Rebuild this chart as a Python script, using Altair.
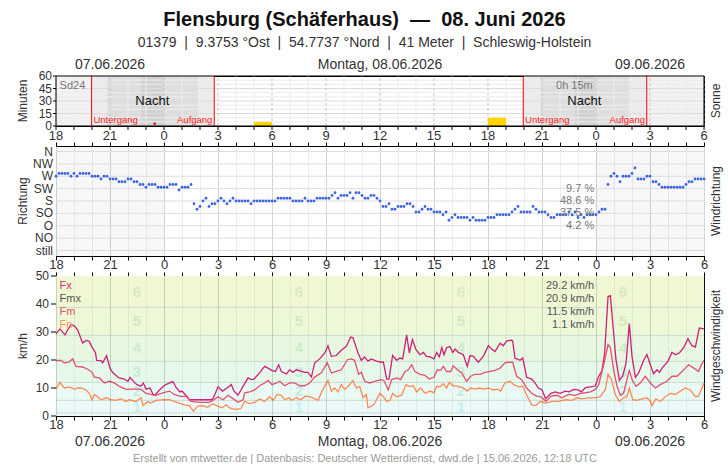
import json
import altair as alt
import pandas as pd

FONT = "Liberation Sans"
W, H1, H2, H3 = 648, 50, 110, 140
X_DOMAIN = [0, 36]  # hours since 07.06.2026 18:00 UTC

# ---------------- texts ----------------
title_text = "Flensburg (Schäferhaus) \u00a0—\u00a0 08. Juni 2026"
subtitle_text = ("01379 \u00a0|\u00a0 9.3753 °Ost \u00a0|\u00a0 54.7737 °Nord \u00a0|\u00a0 "
                 "41 Meter \u00a0|\u00a0 Schleswig-Holstein")
footer_text = "Erstellt von mtwetter.de | Datenbasis: Deutscher Wetterdienst, dwd.de | 15.06.2026, 12:18 UTC"
date_labels = ["07.06.2026", "Montag, 08.06.2026", "09.06.2026"]
date_label_hours = [3, 18, 33]
hour_ticks = list(range(0, 37))
major_hours = list(range(0, 37, 3))
minor_hours = [h for h in hour_ticks if h % 3 != 0]
major_hour_labels = [str((h + 18) % 24) for h in major_hours]

# ---------------- Sonne ----------------
other_day_start = [0, 30]
other_day_end = [6, 36]
night_edges = [
    [1.98, 2.83, 4.72, 5.98, 7.87, 8.79],
    [25.96, 26.93, 28.83, 29.94, 31.83, 32.82],
]
twilight_colors = ["#ebebeb", "#dedede", "#d2d2d2"]
sunset_hours = [1.98, 25.96]
sunrise_hours = [8.79, 32.82]
sun_hours = [11, 24]
sun_minutes = [5, 10]
night_label_hours = [5.35, 29.35]
min_grid = list(range(5, 60, 5))
min_ticks = [0, 15, 30, 45, 60]

# ---------------- Windrichtung (10-min values, degrees) ----------------
dir_names = ["still", "NO", "O", "SO", "S", "SW", "W", "NW", "N"]
dir_levels = [0, 45, 90, 135, 180, 225, 270, 315, 360]
dir_deg = [
    270, 280, 280, 280, 280, 270, 280, 270, 280, 280, 280, 280, 270, 270, 270, 260,
    270, 270, 260, 260, 260, 250, 250, 250, 260, 260, 250, 250, 240, 240, 230, 240,
    240, 240, 230, 230, 230, 230, 240, 240, 240, 220, 230, 230, 230, 240,
    170, 150, 160, 180, 190, 160, 170, 170, 180, 190, 180, 170, 180, 190, 180, 180,
    180, 180, 180, 170, 180, 180, 180, 180, 180, 180, 180, 180, 190, 190, 190, 190,
    190, 180, 180, 180, 180, 190, 180, 180, 180, 190, 190, 190, 190, 190, 200, 210,
    190, 200, 200, 200, 210, 190, 210, 210, 200, 190,
    190, 200, 200, 190, 180, 160, 160, 170, 150, 150, 160, 160, 160, 170, 170, 160,
    140, 140, 150, 160, 150, 150, 140, 140, 140, 130, 140, 110, 120, 130, 120, 120,
    120, 120, 110, 120, 110, 110, 110, 110, 120, 120, 120, 130, 130, 130, 130, 130,
    140, 150, 160, 140, 140, 140, 140, 160, 150, 140, 140, 140, 130, 120, 120, 130,
    130, 130, 130, 140, 130, 140, 120, 130, 120, 130, 130, 130, 130, 140, 150, 150,
    240, 270, 280, 270, 250, 270, 270, 270, 280, 300, 260, 260, 260, 270, 270, 250,
    250, 240, 230, 230, 230, 230, 230, 230, 230, 230, 240, 250, 250, 260, 260, 260, 260,
]
dir_pct_text = ["9.7 %", "48.6 %", "37.5 %", "4.2 %"]
dir_pct_deg = [225, 180, 135, 90]

# ---------------- Windgeschwindigkeit (km/h) ----------------
fx_hours = [0, 0.22, 0.5, 0.65, 0.83, 1.0, 1.2, 1.48, 1.7, 1.85, 2.0, 2.19, 2.26, 2.5, 2.59,
            2.81, 3.0, 3.15, 3.5, 3.8, 4.0, 4.11, 4.35, 4.5, 4.72, 4.85, 5.0, 5.22, 5.41, 5.5,
            5.74, 6.0, 6.3, 6.5, 6.67, 6.89, 7.0, 7.22, 7.41, 7.5, 8.0, 8.5, 8.67, 8.85,
            9.0, 9.25, 9.5, 9.74, 9.89, 10.11, 10.39, 10.67, 10.85, 11.0, 11.31, 11.59, 11.78,
            12.0, 12.19, 12.37, 12.52, 12.8, 12.98, 13.17, 13.35, 13.54, 13.81, 14.0, 14.19,
            14.37, 14.65, 14.93, 15.11, 15.3, 15.57, 15.85, 16.13, 16.37, 16.5, 16.78, 16.96,
            17.15, 17.33, 17.52, 17.8, 18.07,
            18.19, 18.37, 18.5, 18.7, 18.93, 19.11, 19.26, 19.48, 19.63, 19.8, 20.0, 20.22,
            20.41, 20.59, 20.78, 21.0, 21.15, 21.3, 21.43, 21.56, 21.7, 21.89, 22.04, 22.17,
            22.35, 22.63, 22.85, 23.0, 23.19, 23.46, 23.74, 24.02, 24.2, 24.39, 24.67, 24.85,
            25.04, 25.31, 25.37, 25.5, 25.78, 25.93, 26.15, 26.43, 26.61, 26.8, 27.0, 27.2,
            27.5, 27.74, 28.0, 28.3, 28.5, 28.76, 29.0, 29.19, 29.41, 29.69, 29.96, 30.15,
            30.33, 30.48, 30.67, 30.8, 30.93, 31.11, 31.3, 31.48, 31.67, 31.85, 32.0, 32.19,
            32.37, 32.65, 32.83, 33.02, 33.2, 33.39, 33.52, 33.67, 34.0, 34.22, 34.41, 34.63,
            34.87, 35.11, 35.33, 35.52, 35.74, 36.0]
fx_kmh = [29.3, 31.1, 29.0, 30.8, 32.6, 32.3, 30.8, 26.1, 27.0, 26.7, 24.6, 22.7, 19.9, 19.8, 19.0,
          21.5, 17.1, 15.5, 13.6, 13.2, 12.4, 13.8, 12.1, 11.2, 10.6, 11.8, 9.6, 10.0, 7.5, 7.5,
          9.2, 10.8, 11.8, 12.3, 10.2, 8.6, 8.9, 7.4, 5.8, 5.8, 5.8, 5.8, 5.8, 8.0,
          10.4, 8.9, 10.0, 11.2, 8.9, 7.4, 10.6, 13.6, 13.0, 13.2, 15.4, 17.7, 17.1,
          16.2, 15.9, 18.3, 15.9, 15.0, 16.5, 15.6, 16.5, 16.2, 15.6, 15.6, 13.9,
          18.9, 20.4, 22.5, 25.1, 21.3, 21.6, 23.5, 24.9, 28.2, 27.9, 22.5, 19.9,
          21.1, 19.6, 20.4, 19.6, 19.2,
          19.2, 13.2, 13.2, 21.6, 19.9, 20.7, 20.4, 29.0, 22.5, 27.3, 23.7, 21.9,
          22.7, 21.3, 21.1, 20.4, 22.7, 21.1, 24.4, 21.9, 24.4, 24.8, 22.7, 23.9,
          22.7, 21.9, 17.7, 21.6, 21.3, 19.2, 21.3, 25.1, 23.9, 23.0, 26.0, 25.1,
          26.8, 27.1, 26.8, 20.7, 19.9, 20.7, 13.8, 13.2, 11.8, 10.0, 9.4, 6.2,
          8.1, 8.6, 8.1, 8.9, 8.6, 9.5, 9.3, 8.6, 10.1, 10.4, 10.7, 14.2,
          16.0, 22.5, 42.7, 43.0, 33.2, 20.1, 12.7, 14.2, 18.9, 33.0, 21.3, 13.8,
          15.4, 19.9, 21.9, 18.3, 15.1, 16.5, 15.6, 17.1, 19.6, 22.7, 21.9, 22.5,
          24.4, 27.6, 25.1, 24.6, 31.4, 31.1]

fm_hours = [0, 0.28, 0.46, 0.7, 0.93, 1.11, 1.48, 1.76, 2.0, 2.13, 2.41, 2.69, 2.96, 3.24, 3.52,
            3.89, 4.17, 4.44, 4.72, 5.0, 5.28, 5.56, 5.93, 6.3, 6.57, 6.94, 7.22, 7.5, 8.0, 8.5,
            8.7, 9.0,
            9.28, 9.56, 9.83, 10.11, 10.39, 10.48, 10.76, 11.04, 11.31, 11.59, 11.78, 12.0, 12.24,
            12.43, 12.7, 12.98, 13.26, 13.54, 13.81, 14.09, 14.37, 14.74, 15.07, 15.3, 15.57,
            15.85, 16.19, 16.41, 16.59, 16.81, 16.96, 17.15, 17.43, 17.7, 18.07,
            18.22, 18.46, 18.65, 18.93, 19.15, 19.39, 19.57, 19.76, 19.94, 20.22, 20.5, 20.74,
            21.0, 21.19, 21.37, 21.52, 21.7, 21.93, 22.07, 22.3, 22.54, 22.81, 23.04, 23.28,
            23.56, 23.83, 24.11, 24.39, 24.67, 24.94, 25.13, 25.37, 25.59, 25.87, 26.15, 26.43,
            26.7, 26.89, 27.0, 27.22,
            27.5, 27.83, 28.11, 28.48, 28.85, 29.13, 29.41, 29.69, 29.96, 30.15, 30.43, 30.67,
            30.8, 30.98, 31.17, 31.35, 31.54, 31.72, 31.85, 32.0, 32.22, 32.46, 32.74, 33.02,
            33.3, 33.57, 33.94, 34.22, 34.5, 34.78, 34.96, 35.15, 35.43, 35.7, 35.85, 36.0]
fm_kmh = [19.9, 19.9, 19.0, 19.2, 20.4, 17.7, 17.5, 16.7, 15.6, 13.9, 13.6, 11.8, 12.4, 11.8, 10.6,
          9.5, 9.6, 9.6, 9.5, 8.1, 7.7, 7.4, 8.3, 8.9, 7.7, 6.9, 7.1, 5.2, 4.9, 4.9,
          5.5, 6.9,
          5.8, 7.4, 6.2, 4.9, 5.8, 8.3, 8.6, 9.3, 10.8, 11.8, 12.7, 11.2, 11.8,
          12.4, 10.8, 11.8, 11.8, 10.8, 10.8, 11.8, 13.9, 15.4, 19.0, 15.4, 15.9,
          16.5, 20.1, 20.4, 19.9, 14.9, 15.6, 12.4, 11.8, 12.4, 13.0,
          12.7, 9.3, 13.0, 13.6, 13.0, 15.9, 16.5, 18.3, 15.9, 14.9, 14.5, 13.2,
          13.9, 16.5, 16.3, 17.7, 15.9, 15.9, 17.9, 16.5, 15.4, 12.4, 14.2, 14.9,
          14.9, 15.6, 15.9, 16.3, 17.1, 19.0, 19.2, 19.2, 14.2, 13.0, 10.0, 8.1,
          7.1, 6.9, 6.5, 5.2,
          7.1, 7.4, 6.5, 7.7, 7.4, 8.1, 8.3, 8.6, 9.5, 11.2, 18.3, 25.5,
          24.4, 16.5, 10.6, 7.4, 8.3, 13.0, 16.5, 13.0, 10.6, 11.8, 14.2, 11.8,
          10.0, 11.2, 12.4, 14.2, 14.2, 15.9, 17.1, 18.3, 17.1, 15.9, 18.3, 19.9]

fn_hours = [0, 0.22, 0.46, 0.74, 1.02, 1.2, 1.39, 1.67, 1.85, 2.0, 2.13, 2.31, 2.5, 2.78, 3.06,
            3.33, 3.61, 3.89, 4.07, 4.44, 4.72, 4.85, 5.09, 5.28, 5.56, 5.93, 6.3, 6.57, 6.85,
            7.13, 7.41, 7.63, 7.87, 8.15, 8.43, 8.7, 8.98,
            9.22, 9.46, 9.65, 9.93, 10.26, 10.48, 10.76, 11.04, 11.31, 11.59, 11.87, 12.06, 12.3,
            12.52, 12.7, 12.93, 13.11, 13.35, 13.59, 13.85, 14.09, 14.37, 14.56, 14.78, 15.11,
            15.3, 15.48, 15.67, 15.85, 16.04, 16.26, 16.5, 16.69, 16.87, 17.06, 17.24, 17.33,
            17.52, 17.7, 17.89,
            18.0, 18.19, 18.37, 18.56, 18.7, 18.93, 19.2, 19.44, 19.63, 19.85, 20.04, 20.26,
            20.5, 20.78, 21.0, 21.15, 21.33, 21.52, 21.7, 21.85, 22.07, 22.35, 22.63, 22.85,
            23.04, 23.28, 23.52, 23.74, 24.02, 24.3, 24.52, 24.7, 24.94, 25.22, 25.44, 25.69,
            25.93, 26.15, 26.43, 26.67, 26.89, 27.0,
            27.22, 27.56, 27.93, 28.3, 28.67, 28.94, 29.22, 29.59, 29.96, 30.24, 30.52, 30.67,
            30.85, 31.07, 31.3, 31.54, 31.72, 31.85, 32.04, 32.28, 32.56, 32.83, 33.02, 33.11,
            33.33, 33.57, 33.85, 34.13, 34.41, 34.69, 34.96, 35.24, 35.52, 35.7, 36.0]
fn_kmh = [9.6, 12.0, 10.0, 10.4, 9.5, 10.0, 10.0, 9.3, 8.1, 5.8, 7.7, 6.9, 5.8, 6.5, 5.8,
          5.6, 6.1, 5.2, 5.8, 5.2, 6.5, 3.7, 5.2, 4.6, 5.6, 5.8, 5.8, 5.2, 4.6,
          4.0, 3.7, 1.7, 3.5, 3.7, 3.1, 4.4, 3.5,
          2.9, 4.0, 2.9, 2.4, 2.6, 5.2, 4.4, 4.9, 6.1, 5.2, 6.9, 5.6, 7.7,
          7.4, 5.8, 6.5, 5.6, 6.5, 5.8, 7.1, 6.9, 6.1, 5.6, 8.9, 12.7,
          8.9, 10.0, 8.6, 11.2, 9.5, 10.8, 12.7, 10.0, 10.6, 6.5, 7.7, 2.9,
          3.5, 4.4, 6.9,
          8.1, 6.9, 5.2, 5.6, 8.1, 6.9, 7.4, 11.2, 10.6, 10.8, 8.6, 10.0,
          8.1, 8.9, 8.3, 10.6, 10.4, 11.5, 10.0, 12.0, 10.8, 10.6, 10.0, 8.9,
          10.0, 9.6, 10.0, 9.6, 10.0, 9.3, 9.6, 8.9, 11.8, 12.4, 11.2, 10.4,
          10.6, 7.4, 4.0, 3.7, 5.2, 5.0,
          4.6, 5.2, 5.2, 5.8, 5.6, 6.5, 6.1, 6.5, 6.5, 6.9, 9.5, 14.9,
          13.2, 7.7, 5.2, 6.5, 6.9, 10.0, 5.8, 5.6, 6.1, 6.5, 5.2, 3.7,
          6.1, 5.2, 6.9, 8.1, 7.7, 8.9, 10.0, 9.3, 6.9, 7.1, 11.8]

series_names = ["Fx", "Fm", "Fn"]
series_colors = ["#cf1f78", "#e5506e", "#ff8a55"]
legend_names = ["Fx", "Fmx", "Fm", "Fn"]
legend_colors = ["#d42a7f", "#555555", "#e8506a", "#ff9060"]
legend_kmh = [46.4, 41.8, 37.1, 32.5]
stat_texts = ["29.2 km/h", "20.9 km/h", "11.5 km/h", "1.1 km/h"]
kmh_ticks = [0, 10, 20, 30, 40, 50]

bft_edges = [0, 1.1, 5.6, 12.0, 19.5, 28.8, 38.8, 50]
bft_fill = ["#eef7f9", "#ecf9f9", "#e9f9f3", "#e6f8ea", "#e8f8e0", "#ecf8d8", "#f0f8d3"]
bft_numbers = ["1", "2", "3", "4", "5", "6"]
bft_num_colors = ["#c6eef4", "#c4ece2", "#c6ecd4", "#cbeccb", "#d6e9bd", "#dbe8c2"]
bft_label_hours = [4.5, 13.5, 22.5, 31.5]

# ---------------- helpers ----------------
xscale = alt.Scale(domain=X_DOMAIN, nice=False, zero=False)
MAJOR = "datum.value % 3 === 0"
HOUR_LABEL = "datum.value % 3 === 0 ? '' + ((datum.value + 18) % 24) : ''"
TICK_LEN = 4


def bottom_axis(major_color, minor_color, zindex=0):
    return alt.Axis(orient="bottom", values=hour_ticks, labelExpr=HOUR_LABEL, labelFont=FONT,
                    labelFontSize=13, labelColor="#333", labelPadding=-2, labelFlush=False,
                    labelOverlap=False, tickColor="#000", tickSize=TICK_LEN, domainColor="#000",
                    grid=True,
                    gridColor={"condition": {"test": MAJOR, "value": major_color},
                               "value": minor_color},
                    title=None, zindex=zindex)


top_axis = alt.Axis(orient="top", values=hour_ticks, labels=False, tickColor="#000",
                    tickSize=TICK_LEN, domain=False, grid=False, title=None)


def side_title(text, h, xpix):
    return alt.Chart(pd.DataFrame({"t": [text]})).mark_text(
        angle=270, font=FONT, fontSize=12, color="#333", align="center", baseline="middle"
    ).encode(text="t:N", x=alt.value(xpix), y=alt.value(h / 2))


def text_layer(df, yscale, color, size, align="left", weight="normal"):
    return alt.Chart(df).mark_text(font=FONT, fontSize=size, align=align, baseline="middle",
                                   fontWeight=weight, color=color).encode(
        x=alt.X("hour:Q", scale=xscale, axis=None),
        y=alt.Y("v:Q", scale=yscale, axis=None),
        text="t:N")


def date_layer(ypix):
    df = pd.DataFrame({"hour": date_label_hours, "t": date_labels})
    return alt.Chart(df).mark_text(font=FONT, fontSize=14, color="#333", baseline="middle").encode(
        x=alt.X("hour:Q", scale=xscale, axis=None), y=alt.value(ypix), text="t:N")


def y_labels(values, texts, yscale, xoff):
    df = pd.DataFrame({"v": values, "t": texts})
    return alt.Chart(df).mark_text(font=FONT, fontSize=12, color="#333", align="right",
                                   baseline="middle").encode(
        x=alt.value(xoff), y=alt.Y("v:Q", scale=yscale, axis=None), text="t:N")


def y_ticks(values, yscale, size):
    df = pd.DataFrame({"v": values})
    return alt.Chart(df).mark_rule(color="#000", strokeWidth=1).encode(
        x=alt.value(-size), x2=alt.value(0), y=alt.Y("v:Q", scale=yscale, axis=None))


def y_grid(values, color, yscale):
    df = pd.DataFrame({"v": values})
    return alt.Chart(df).mark_rule(color=color, strokeWidth=1).encode(
        x=alt.value(0), x2=alt.value(W), y=alt.Y("v:Q", scale=yscale, axis=None))


def x_grid(hours, color, yscale, lo, hi, dash=None):
    df = pd.DataFrame({"hour": hours})
    df["lo"], df["hi"] = lo, hi
    kw = dict(color=color, strokeWidth=1)
    if dash:
        kw["strokeDash"] = dash
    return alt.Chart(df).mark_rule(**kw).encode(
        x=alt.X("hour:Q", scale=xscale, axis=None),
        y=alt.Y("lo:Q", scale=yscale, axis=None), y2="hi:Q")


def x_ticks_manual(hours, size, h):
    df = pd.DataFrame({"hour": hours})
    return alt.Chart(df).mark_rule(color="#000", strokeWidth=1).encode(
        x=alt.X("hour:Q", scale=xscale, axis=None), y=alt.value(h), y2=alt.value(h + size))


def frame(h):
    return alt.Chart(pd.DataFrame({"a": [0]})).mark_rect(
        fillOpacity=0, stroke="#000", strokeWidth=1).encode(
        x=alt.value(0), x2=alt.value(W), y=alt.value(0), y2=alt.value(h))


# ---------------- Panel 1: Sonne ----------------
y1 = alt.Scale(domain=[0, 60], nice=False, zero=True)

other_df = pd.DataFrame({"start": other_day_start, "end": other_day_end})
other_df["lo"], other_df["hi"] = 0, 60
p1_other = alt.Chart(other_df).mark_rect(color="#f2f2f2").encode(
    x=alt.X("start:Q", scale=xscale, axis=None), x2="end:Q",
    y=alt.Y("lo:Q", scale=y1, axis=None), y2="hi:Q")

rows = []
for e in night_edges:
    for k, c in enumerate(twilight_colors):
        rows.append({"start": e[k], "end": e[5 - k], "lo": 0, "hi": 60, "c": c})
night_df = pd.DataFrame(rows)
p1_night = alt.Chart(night_df).mark_rect().encode(
    x=alt.X("start:Q", scale=xscale, axis=None), x2="end:Q",
    y=alt.Y("lo:Q", scale=y1, axis=None), y2="hi:Q", color=alt.Color("c:N", scale=None))

p1_hgrid_minor = y_grid([v for v in min_grid if v % 15 != 0], "#ececec", y1)
p1_hgrid_major = y_grid([15, 30, 45], "#dcdcdc", y1)
p1_vgrid = x_grid(minor_hours, "#ececec", y1, 0, 60)
p1_vmajor = x_grid(major_hours, "#c6c6c6", y1, 0, 60, dash=[3, 2])

sun_df = pd.DataFrame({"start": sun_hours, "end": [h + 1 for h in sun_hours], "hi": sun_minutes})
sun_df["lo"] = 0
p1_sun = alt.Chart(sun_df).mark_rect(color="#ffd200").encode(
    x=alt.X("start:Q", scale=xscale, axis=None), x2="end:Q",
    y=alt.Y("lo:Q", scale=y1, axis=None), y2="hi:Q")

p1_rules = x_grid(sunset_hours + sunrise_hours, "#ff0000", y1, 0, 60)

p1_dot = alt.Chart(pd.DataFrame({"hour": [5.48], "v": [2.8]})).mark_square(
    size=5, color="#e00000", opacity=1).encode(
    x=alt.X("hour:Q", scale=xscale, axis=None), y=alt.Y("v:Q", scale=y1, axis=None))

p1_nacht = text_layer(pd.DataFrame({"hour": night_label_hours, "v": [30, 30], "t": ["Nacht", "Nacht"]}),
                      y1, "#111", 13, align="center")
p1_unter = text_layer(pd.DataFrame({"hour": [h + 0.1 for h in sunset_hours], "v": [7, 7],
                                    "t": ["Untergang", "Untergang"]}), y1, "#ff1a1a", 9.5, align="left")
p1_auf = text_layer(pd.DataFrame({"hour": [h - 0.1 for h in sunrise_hours], "v": [7, 7],
                                  "t": ["Aufgang", "Aufgang"]}), y1, "#ff1a1a", 9.5, align="right")
p1_sd = text_layer(pd.DataFrame({"hour": [0.2], "v": [48], "t": ["Sd24"]}), y1, "#777", 11)
p1_sum = text_layer(pd.DataFrame({"hour": [28.8], "v": [48], "t": ["0h 15m"]}), y1, "#777", 11,
                    align="center")

p1_xlabels = alt.Chart(pd.DataFrame({"hour": major_hours, "t": major_hour_labels})).mark_text(
    font=FONT, fontSize=13, color="#333", baseline="middle").encode(
    x=alt.X("hour:Q", scale=xscale, axis=None), y=alt.value(H1 + 9.5), text="t:N")

panel1 = alt.layer(
    p1_other, p1_night, p1_hgrid_minor, p1_hgrid_major, p1_vgrid, p1_vmajor, p1_sun, p1_rules,
    p1_dot, p1_nacht, p1_unter, p1_auf, p1_sd, p1_sum,
    y_labels(min_ticks, [str(v) for v in min_ticks], y1, -4), y_ticks(min_ticks, y1, 3),
    x_ticks_manual(hour_ticks, TICK_LEN, H1), p1_xlabels,
    date_layer(-11), side_title("Minuten", H1, -33), side_title("Sonne", H1, W + 12), frame(H1),
).properties(width=W, height=H1)

# ---------------- Panel 2: Windrichtung ----------------
y2 = alt.Scale(domain=[-20, 380], nice=False, zero=False)

other2_df = pd.DataFrame({"start": other_day_start, "end": other_day_end})
other2_df["lo"], other2_df["hi"] = -20, 380
p2_other = alt.Chart(other2_df).mark_rect(color="#000", opacity=0.03).encode(
    x=alt.X("start:Q", scale=xscale, axis=top_axis), x2="end:Q",
    y=alt.Y("lo:Q", scale=y2, axis=None), y2="hi:Q")

dir_df = pd.DataFrame({"hour": [i / 6 for i in range(len(dir_deg))], "deg": dir_deg})
p2_dots = alt.Chart(dir_df).mark_circle(size=8, color="#3f66e0", opacity=1).encode(
    x=alt.X("hour:Q", scale=xscale, axis=bottom_axis("#d4d4d4", "#ededed")),
    y=alt.Y("deg:Q", scale=y2, axis=None))

p2_pct = text_layer(pd.DataFrame({"hour": [29.9] * 4, "v": dir_pct_deg, "t": dir_pct_text}),
                    y2, "#777", 11, align="right")

panel2 = alt.layer(
    p2_other, y_grid(dir_levels, "#dddddd", y2), p2_dots, p2_pct,
    y_labels(dir_levels, dir_names, y2, -3),
    side_title("Richtung", H2, -33), side_title("Windrichtung", H2, W + 12),
).resolve_axis(x="independent").properties(width=W, height=H2)

# ---------------- Panel 3: Windgeschwindigkeit ----------------
y3 = alt.Scale(domain=[0, 50], nice=False, zero=True)

band_df = pd.DataFrame({"lo": bft_edges[:-1], "hi": bft_edges[1:], "c": bft_fill})
band_df["start"], band_df["end"] = 0, 36
p3_bands = alt.Chart(band_df).mark_rect().encode(
    x=alt.X("start:Q", scale=xscale, axis=top_axis), x2="end:Q",
    y=alt.Y("lo:Q", scale=y3, axis=None), y2="hi:Q", color=alt.Color("c:N", scale=None))

p3_bounds = y_grid(bft_edges[1:-1], "#c9dccf", y3)

num_rows = []
for i, n in enumerate(bft_numbers):
    for h in bft_label_hours:
        num_rows.append({"hour": h, "v": (bft_edges[i + 1] + bft_edges[i + 2]) / 2, "t": n,
                         "c": bft_num_colors[i]})
p3_nums = alt.Chart(pd.DataFrame(num_rows)).mark_text(
    font=FONT, fontSize=15, fontWeight="bold", baseline="middle").encode(
    x=alt.X("hour:Q", scale=xscale, axis=None), y=alt.Y("v:Q", scale=y3, axis=None),
    text="t:N", color=alt.Color("c:N", scale=None))

speed_df = pd.concat([
    pd.DataFrame({"hour": fx_hours, "kmh": fx_kmh, "s": "Fx"}),
    pd.DataFrame({"hour": fm_hours, "kmh": fm_kmh, "s": "Fm"}),
    pd.DataFrame({"hour": fn_hours, "kmh": fn_kmh, "s": "Fn"}),
])
p3_lines = alt.Chart(speed_df).mark_line(strokeWidth=1.3).encode(
    x=alt.X("hour:Q", scale=xscale,
            axis=bottom_axis("rgba(60,80,60,0.22)", "rgba(60,80,60,0.07)", zindex=1)),
    y=alt.Y("kmh:Q", scale=y3, axis=None),
    color=alt.Color("s:N", scale=alt.Scale(domain=series_names, range=series_colors), legend=None),
    detail="s:N")

leg_df = pd.DataFrame({"hour": [0.2] * 4, "v": legend_kmh, "t": legend_names, "c": legend_colors})
p3_leg = alt.Chart(leg_df).mark_text(font=FONT, fontSize=11, align="left", baseline="middle").encode(
    x=alt.X("hour:Q", scale=xscale, axis=None), y=alt.Y("v:Q", scale=y3, axis=None),
    text="t:N", color=alt.Color("c:N", scale=None))
p3_stats = text_layer(pd.DataFrame({"hour": [29.9] * 4, "v": legend_kmh, "t": stat_texts}),
                      y3, "#555", 11, align="right")

p3_footer = alt.Chart(pd.DataFrame({"t": [footer_text]})).mark_text(
    font=FONT, fontSize=11, color="#9a9a9a", baseline="middle").encode(
    text="t:N", x=alt.value(309), y=alt.value(H3 + 43))

panel3 = alt.layer(
    p3_bands, p3_bounds, p3_nums, p3_lines, p3_leg, p3_stats,
    y_labels(kmh_ticks, [str(v) for v in kmh_ticks], y3, -7), y_ticks(kmh_ticks, y3, 5),
    date_layer(H3 + 26), p3_footer, side_title("km/h", H3, -33),
    side_title("Windgeschwindigkeit", H3, W + 12),
).resolve_axis(x="independent").properties(width=W, height=H3)

chart = alt.vconcat(panel1, panel2, panel3, spacing=20, bounds="flush").resolve_scale(
    x="independent", y="independent", color="independent"
).properties(
    title=alt.TitleParams(text=title_text, subtitle=subtitle_text, font=FONT, fontSize=20,
                          fontWeight="bold", color="#111", subtitleFont=FONT, subtitleFontSize=14,
                          subtitleColor="#333", anchor="middle", offset=8, subtitlePadding=6,
                          dx=-5),
    padding={"left": 16, "top": 9, "right": 4, "bottom": 2},
    background="white",
).configure_view(stroke="#000", strokeWidth=1)

chart.save("out.html", embed_options={"renderer": "svg", "actions": False})
